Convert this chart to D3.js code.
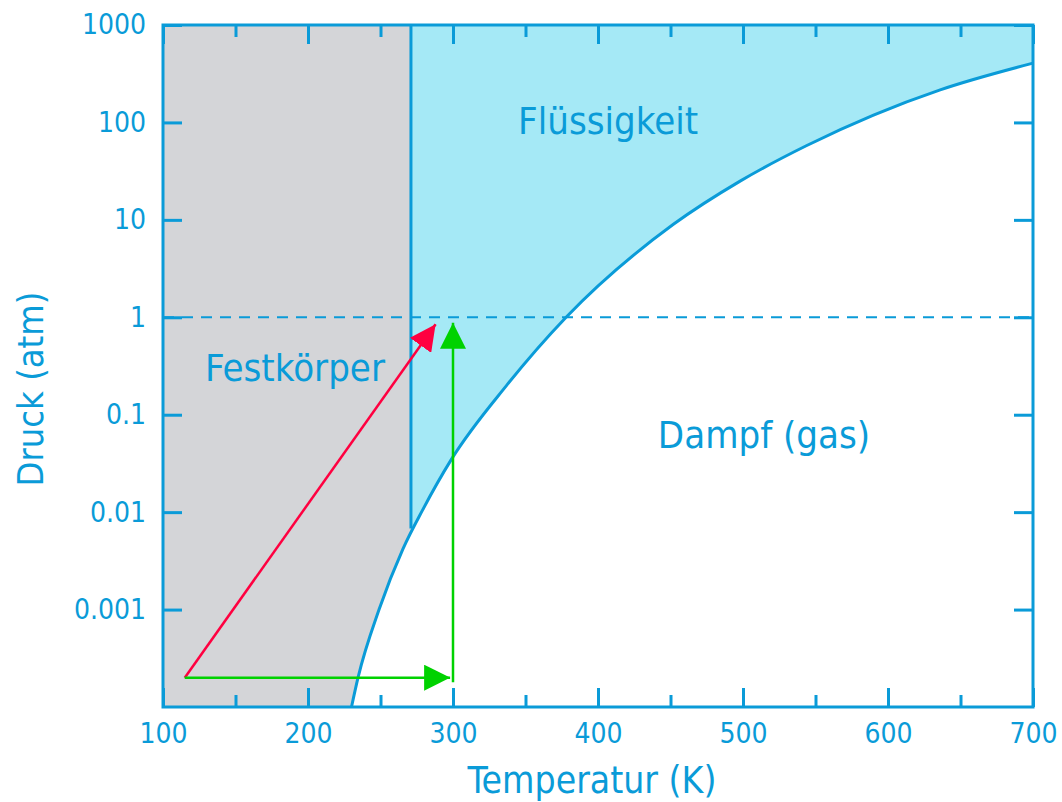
<!DOCTYPE html>
<html>
<head>
<meta charset="utf-8">
<script src="https://cdn.jsdelivr.net/npm/d3@7"></script>
<style>
  html, body { margin: 0; padding: 0; background: #ffffff; }
  svg { display: block; }
  .lbl { font-family: "DejaVu Sans Condensed", "DejaVu Sans", sans-serif; fill: #0a9bd8; }
</style>
</head>
<body>
<svg id="chart"></svg>
<script>
// Phase diagram data
const tempTicks = [100, 200, 300, 400, 500, 600, 700];
const tempMinorTicks = [150, 250, 350, 450, 550, 650];
const pressureTicks = [1000, 100, 10, 1, 0.1, 0.01, 0.001];

// phase boundary (sublimation + vaporisation curve)
const curveT = [230, 234.5, 249, 265.5, 279, 299, 337, 378, 452, 498, 544, 590, 636, 700];
const curveP = [1e-4, 2e-4, 1e-3, 4.2e-3, 1.05e-2, 3.5e-2, 0.2, 1.0, 9.0, 25, 58, 119, 216, 406];

// melting line (vertical) and 1 atm reference
const meltT = 271;
const meltP = [1000, 0.0068];
const refPressure = 1;

// arrows: [T, p]
const redArrow = [[115, 2e-4], [288, 0.85]];
const greenArrowH = [[115, 2e-4], [298, 2e-4]];
const greenArrowV = [[300, 1.8e-4], [300, 0.88]];

const regionLabels = [
  { text: 'Flüssigkeit', T: 407, p: 105 },
  { text: 'Festkörper', T: 191, p: 0.305 },
  { text: 'Dampf (gas)', T: 514.5, p: 0.063 }
];

(function() {
  'use strict';

  const width = 1062, height = 802;
  const margin = { top: 25, right: 29, bottom: 95, left: 163 };
  const innerWidth = width - margin.left - margin.right;
  const innerHeight = height - margin.top - margin.bottom;

  const blue = '#0a9bd8';
  const font = '"DejaVu Sans Condensed", "DejaVu Sans", sans-serif';

  const svg = d3.select('#chart')
    .attr('width', width)
    .attr('height', height);

  const g = svg.append('g')
    .attr('transform', `translate(${margin.left}, ${margin.top})`);

  // Scales
  const x = d3.scaleLinear().domain([100, 700]).range([0, innerWidth]);
  const y = d3.scaleLog().domain([1e-4, 1000]).range([innerHeight, 0]);

  const curve = curveT.map((t, i) => ({ T: t, p: curveP[i] }));

  // Region fills
  g.append('rect')
    .attr('width', innerWidth)
    .attr('height', innerHeight)
    .attr('fill', '#d4d5d8');

  g.append('rect')
    .attr('x', x(meltT))
    .attr('width', innerWidth - x(meltT))
    .attr('height', innerHeight)
    .attr('fill', '#a5e9f6');

  const area = d3.area()
    .x(d => x(d.T))
    .y0(innerHeight)
    .y1(d => y(d.p))
    .curve(d3.curveMonotoneX);

  g.append('path')
    .datum(curve)
    .attr('fill', '#ffffff')
    .attr('d', area);

  // 1 atm dashed line
  g.append('line')
    .attr('x1', 0).attr('x2', innerWidth)
    .attr('y1', y(refPressure)).attr('y2', y(refPressure))
    .attr('stroke', blue)
    .attr('stroke-width', 2)
    .attr('stroke-dasharray', '11 8');

  // Melting line
  g.append('line')
    .attr('x1', x(meltT)).attr('x2', x(meltT))
    .attr('y1', y(meltP[0])).attr('y2', y(meltP[1]))
    .attr('stroke', blue)
    .attr('stroke-width', 3);

  // Boundary curve
  const line = d3.line()
    .x(d => x(d.T))
    .y(d => y(d.p))
    .curve(d3.curveMonotoneX);

  g.append('path')
    .datum(curve)
    .attr('fill', 'none')
    .attr('stroke', blue)
    .attr('stroke-width', 3)
    .attr('d', line);

  // Arrow markers
  const defs = svg.append('defs');
  function marker(id, color) {
    defs.append('marker')
      .attr('id', id)
      .attr('markerUnits', 'userSpaceOnUse')
      .attr('viewBox', '0 0 26 26')
      .attr('refX', 26).attr('refY', 13)
      .attr('markerWidth', 26).attr('markerHeight', 26)
      .attr('orient', 'auto')
      .append('path')
      .attr('d', 'M0,0 L26,13 L0,26 Z')
      .attr('fill', color);
  }
  marker('head-red', '#ff0040');
  marker('head-green', '#00d200');

  const arrowLine = d3.line().x(d => x(d[0])).y(d => y(d[1]));

  g.append('path')
    .attr('d', arrowLine(redArrow))
    .attr('stroke', '#ff0040')
    .attr('stroke-width', 2.5)
    .attr('fill', 'none')
    .attr('marker-end', 'url(#head-red)');

  [greenArrowH, greenArrowV].forEach(a => {
    g.append('path')
      .attr('d', arrowLine(a))
      .attr('stroke', '#00d200')
      .attr('stroke-width', 2.5)
      .attr('fill', 'none')
      .attr('marker-end', 'url(#head-green)');
  });

  // Axes (ticks pointing inwards, on all four sides)
  function styleAxis(sel) {
    sel.select('.domain').remove();
    sel.selectAll('line').attr('stroke', blue).attr('stroke-width', 3);
    sel.selectAll('text')
      .attr('fill', blue)
      .style('font-family', font)
      .style('font-size', '28px');
  }

  g.append('g')
    .attr('transform', `translate(0, ${innerHeight})`)
    .call(d3.axisBottom(x).tickValues(tempTicks).tickSize(-19).tickPadding(16).tickFormat(d3.format('d')))
    .call(styleAxis);

  g.append('g')
    .attr('transform', `translate(0, ${innerHeight})`)
    .call(d3.axisBottom(x).tickValues(tempMinorTicks).tickSize(-12).tickFormat(''))
    .call(styleAxis);

  g.append('g')
    .call(d3.axisTop(x).tickValues(tempTicks).tickSize(-19).tickFormat(''))
    .call(styleAxis);

  g.append('g')
    .call(d3.axisTop(x).tickValues(tempMinorTicks).tickSize(-12).tickFormat(''))
    .call(styleAxis);

  g.append('g')
    .call(d3.axisLeft(y).tickValues(pressureTicks).tickSize(-19).tickPadding(17).tickFormat(d => String(d)))
    .call(styleAxis);

  g.append('g')
    .attr('transform', `translate(${innerWidth}, 0)`)
    .call(d3.axisRight(y).tickValues(pressureTicks).tickSize(-19).tickFormat(''))
    .call(styleAxis);

  // Frame
  g.append('rect')
    .attr('width', innerWidth)
    .attr('height', innerHeight)
    .attr('fill', 'none')
    .attr('stroke', blue)
    .attr('stroke-width', 3);

  // Region labels
  g.selectAll('.region')
    .data(regionLabels)
    .enter()
    .append('text')
    .attr('class', 'lbl region')
    .attr('x', d => x(d.T))
    .attr('y', d => y(d.p))
    .attr('text-anchor', 'middle')
    .attr('dy', '0.36em')
    .style('font-size', '38px')
    .text(d => d.text);

  // Axis titles
  svg.append('text')
    .attr('class', 'lbl')
    .attr('x', 592)
    .attr('y', 793)
    .attr('text-anchor', 'middle')
    .style('font-size', '37px')
    .text('Temperatur (K)');

  svg.append('text')
    .attr('class', 'lbl')
    .attr('transform', 'translate(43, 389) rotate(-90)')
    .attr('text-anchor', 'middle')
    .style('font-size', '36px')
    .text('Druck (atm)');
})();
</script>
</body>
</html>
